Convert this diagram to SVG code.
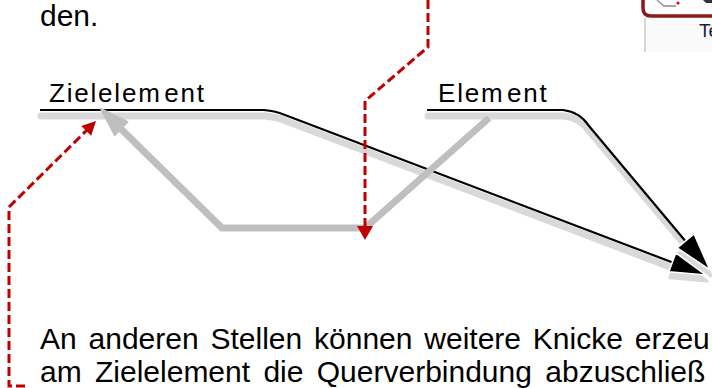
<svg xmlns="http://www.w3.org/2000/svg" width="712" height="388" viewBox="0 0 712 388">
<defs>
<style>
.body{font-family:"Liberation Sans",Arial,sans-serif;font-size:30px;fill:#000}
.label{font-family:"Liberation Sans",Arial,sans-serif;font-size:26px;letter-spacing:1.8px;word-spacing:-6.5px;fill:#000}
.shadow{fill:none;stroke:#d9d9d9;stroke-width:7;stroke-linecap:round;stroke-linejoin:round}
.shadowhead{fill:#d9d9d9;stroke:#d9d9d9;stroke-width:3;stroke-linejoin:round}
.wire{fill:none;stroke:#000;stroke-width:2.2;stroke-linejoin:round}
.head{fill:#000;stroke:#fff;stroke-width:1.6;stroke-linejoin:miter}
.route{fill:none;stroke:#bfbfbf;stroke-width:7;stroke-linejoin:miter}
.red{fill:none;stroke:#c00000;stroke-width:3;stroke-dasharray:9 4}
.redhead{fill:#c00000}
</style>
</defs>
<rect width="712" height="388" fill="#fff"/>

<g id="ui-fragment">
<rect x="646" y="18" width="66" height="34" fill="#fafafa"/>
<line x1="645" y1="18" x2="645" y2="52" stroke="#c8c8c8" stroke-width="1.5"/>
<path d="M643,0 V8 Q643,16 651,16 H712" fill="none" stroke="#8b1a1a" stroke-width="3.5"/>
<polyline points="657,0 664,6 676,6" fill="none" stroke="#8a8a8a" stroke-width="1.3"/>
<circle cx="678" cy="3" r="1.6" fill="#e00000"/>
<path d="M703,0 H712 V3 H706 Z" fill="#333"/>
<text x="699" y="37" style="font-family:'Liberation Sans',Arial,sans-serif;font-size:19px;fill:#1a1a40">Te</text>
</g>

<g id="text-top"><text class="body" x="40" y="26">den.</text></g>

<g id="node-zielelement"><text class="label" x="49" y="102">Zielelem ent</text></g>
<g id="node-element"><text class="label" x="438" y="102">Elem ent</text></g>

<g id="connectors">
<g transform="translate(1,6)">
<path class="shadow" d="M40,110 H264 Q276,111 285,115 L700,272.7"/>
<path class="shadow" d="M427,110 H563 Q580,112 589,126 L705,264"/>
<polygon class="shadowhead" points="706,275 668.8,271.7 675.8,252.9"/>
<polygon class="shadowhead" points="710,270 677.2,248 694,233.8"/>
</g>
<path class="wire" d="M40,110 H264 Q276,111 285,115 L674,263"/>
<polygon class="head" points="706,275 668.8,271.7 675.8,252.9"/>
<path class="wire" d="M427,110 H563 Q580,112 589,126 L687,243"/>
<polygon class="head" points="710,270 677.2,248 694,233.8"/>
<polyline class="route" points="489,118 365,228 222,228 119,127"/>
<polygon points="101,109 127.4,122 114.8,135" fill="#bfbfbf" stroke="#bfbfbf" stroke-width="2" stroke-linejoin="round"/>
<path class="red" d="M428,0 V47 L365,101 V227"/>
<polygon class="redhead" points="357,226 373,226 365,240"/>
<path class="red" d="M25,386 H9 V207 L87,130"/>
<polygon class="redhead" points="96,121 91.2,135.8 81.2,126"/>
</g>

<g id="text-bottom">
<text class="body" x="40" y="349" style="word-spacing:3.5px">An anderen Stellen können weitere Knicke erzeu</text>
<text class="body" x="40" y="382" style="word-spacing:5px">am Zielelement die Querverbindung abzuschließ</text>
</g>
</svg>
